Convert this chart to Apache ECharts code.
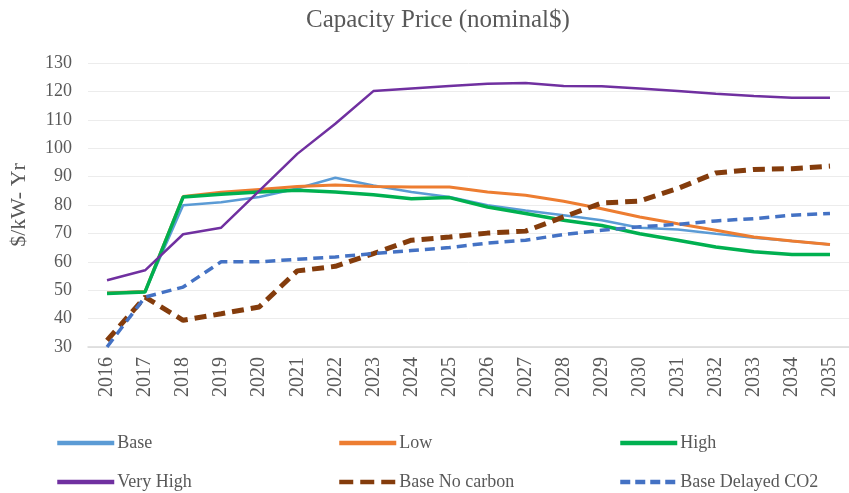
<!DOCTYPE html>
<html>
<head>
<meta charset="utf-8">
<script src="https://cdn.jsdelivr.net/npm/echarts@6/dist/echarts.min.js"></script>
<style>html,body{margin:0;padding:0;background:#fff;}#chart{width:849px;height:493px;}</style>
</head>
<body>
<div id="chart"></div>
<script>
const years = ['2016','2017','2018','2019','2020','2021','2022','2023','2024','2025','2026','2027','2028','2029','2030','2031','2032','2033','2034','2035'];
const base = [49, 49.5, 79.9, 81, 82.8, 85.8, 89.6, 86.9, 84.6, 82.8, 79.9, 78.1, 76.4, 74.6, 72, 71.4, 69.9, 68.5, 67.3, 66.1];
const low = [49, 49.5, 83, 84.5, 85.5, 86.5, 87, 86.5, 86.3, 86.3, 84.6, 83.4, 81.3, 78.7, 75.8, 73.4, 71.1, 68.7, 67.3, 66.1];
const high = [48.8, 49.4, 82.8, 83.8, 84.6, 85.2, 84.6, 83.6, 82.2, 82.6, 79.3, 77, 74.6, 72.8, 69.9, 67.6, 65.2, 63.5, 62.6, 62.6];
const veryHigh = [53.5, 57, 69.7, 72, 85, 98, 108.6, 120.1, 121, 121.9, 122.7, 123, 121.9, 121.8, 121, 120.1, 119.2, 118.4, 117.8, 117.8];
const baseNoCarbon = [32.3, 47.6, 39.4, 41.7, 44.1, 56.8, 58.4, 62.9, 67.6, 68.7, 70.1, 70.8, 75.8, 80.7, 81.4, 85.8, 91.3, 92.5, 92.8, 93.7];
const baseDelayedCO2 = [30, 47.6, 51.1, 60, 60, 60.9, 61.7, 62.9, 64, 65, 66.6, 67.6, 69.6, 71.1, 72.3, 73.2, 74.4, 75.2, 76.4, 77];
const yTicks = {min: 30, max: 130, interval: 10};

const serif = 'Liberation Serif';
const txt = '#595959';

function mk(name, data, color, width, type) {
  return {
    name: name, type: 'line', data: data, symbol: 'none', smooth: false,
    lineStyle: {color: color, width: width, type: type || 'solid', cap: 'butt'},
    itemStyle: {color: color},
    emphasis: {disabled: true}
  };
}

function lg(name, left, top, dash) {
  const ls = {width: 4.5};
  if (dash) ls.type = dash;
  return {
    data: [name], left: left, top: top, orient: 'horizontal',
    itemWidth: 57, itemHeight: 14, itemGap: 0, padding: 0,
    itemStyle: {opacity: 0},
    lineStyle: ls,
    textStyle: {fontFamily: serif, fontSize: 18, color: txt, padding: [0, 0, 0, -2]}
  };
}

const chart = echarts.init(document.getElementById('chart'), null, {renderer: 'canvas'});
chart.setOption({
  animation: false,
  backgroundColor: '#ffffff',
  title: {
    text: 'Capacity Price (nominal$)', left: 301, top: 3,
    textStyle: {fontFamily: serif, fontSize: 25, fontWeight: 'normal', color: txt}
  },
  legend: [
    lg('Base', 55, 434),
    lg('Very High', 55, 473),
    lg('Low', 337, 434),
    lg('Base No carbon', 337, 473, [14, 7]),
    lg('High', 618, 434),
    lg('Base Delayed CO2', 618, 473, [10, 5])
  ],
  grid: {left: 88, right: -5, top: 63, bottom: 146, containLabel: false},
  xAxis: {
    type: 'category', data: years, boundaryGap: true,
    axisLine: {show: true, lineStyle: {color: '#d9d9d9', width: 1.5}},
    axisTick: {show: false},
    axisLabel: {rotate: 90, margin: 10, fontFamily: serif, fontSize: 20, color: txt}
  },
  yAxis: {
    type: 'value', min: yTicks.min, max: yTicks.max, interval: yTicks.interval,
    name: '$/kW- Yr', nameLocation: 'middle', nameGap: 58, nameRotate: 90,
    nameTextStyle: {fontFamily: serif, fontSize: 22, color: txt},
    axisLine: {show: false}, axisTick: {show: false},
    axisLabel: {margin: 16, fontFamily: serif, fontSize: 18, color: txt},
    splitLine: {lineStyle: {color: '#ececec', width: 1}}
  },
  series: [
    mk('Base', base, '#5B9BD5', 2.5),
    mk('Low', low, '#ED7D31', 3),
    mk('High', high, '#00B050', 3.5),
    mk('Very High', veryHigh, '#7030A0', 2.5),
    mk('Base No carbon', baseNoCarbon, '#843C0C', 5, [12, 7]),
    mk('Base Delayed CO2', baseDelayedCO2, '#4472C4', 3.5, [10, 6])
  ]
});
</script>
</body>
</html>
